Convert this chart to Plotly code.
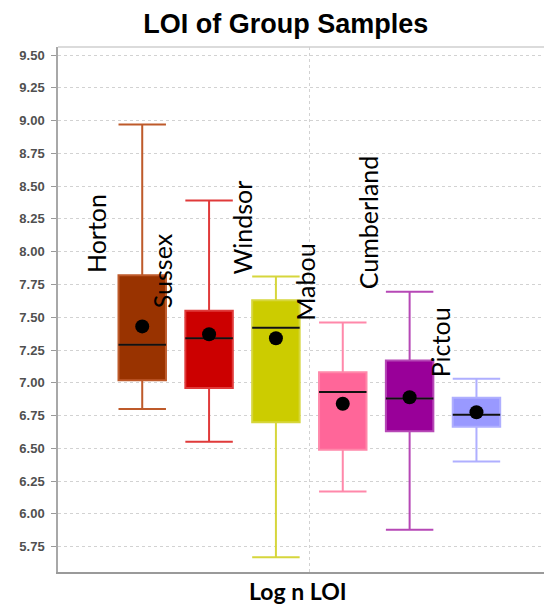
import plotly.graph_objects as go

# ---- data ----
groups = ["Horton", "Sussex", "Windsor", "Mabou", "Cumberland", "Pictou"]
lower_whisker = [6.80, 6.55, 5.67, 6.17, 5.88, 6.40]
q1_values = [7.02, 6.96, 6.70, 6.49, 6.63, 6.665]
median_values = [7.29, 7.34, 7.42, 6.93, 6.88, 6.756]
q3_values = [7.82, 7.55, 7.63, 7.08, 7.17, 6.886]
upper_whisker = [8.97, 8.39, 7.81, 7.46, 7.695, 7.03]
mean_values = [7.43, 7.37, 7.34, 6.84, 6.89, 6.775]

# ---- styles ----
fill_colors = ["#993300", "#CC0000", "#CCCC00", "#FF6699", "#990099", "#9999FF"]
line_colors = ["#BE5A2A", "#E03A3A", "#D6D63C", "#FF88AA", "#B648B6", "#AFAFFF"]
label_xshift = [-46, -47, -34, -38, -42, -37]
label_anchor = ["q3", "q3", "upper", "upper", "upper", "upper"]
box_w = 0.71

fig = go.Figure()
for i, g in enumerate(groups):
    fig.add_trace(go.Box(
        x=[i], q1=[q1_values[i]], median=[median_values[i]], q3=[q3_values[i]],
        lowerfence=[lower_whisker[i]], upperfence=[upper_whisker[i]],
        width=box_w, whiskerwidth=1, boxpoints=False,
        fillcolor=fill_colors[i], line=dict(color=line_colors[i], width=2),
        name=g, showlegend=False, hoverinfo="skip"))
    fig.add_trace(go.Scatter(
        x=[i - box_w / 2, i + box_w / 2], y=[median_values[i], median_values[i]],
        mode="lines", line=dict(color="#111111", width=2),
        showlegend=False, hoverinfo="skip"))
    fig.add_trace(go.Scatter(
        x=[i], y=[mean_values[i]], mode="markers",
        marker=dict(color="black", size=14),
        showlegend=False, hoverinfo="skip"))
    ya = q3_values[i] if label_anchor[i] == "q3" else upper_whisker[i]
    fig.add_annotation(x=i, y=ya, text=g, textangle=-90, showarrow=False,
                       xanchor="center", yanchor="bottom", xshift=label_xshift[i],
                       font=dict(family="Lato", size=25, color="black"))

fig.add_annotation(xref="paper", yref="paper", x=0.4858, y=-0.036,
                   text="Log n LOI", showarrow=False, xanchor="center", yanchor="middle",
                   font=dict(family="Lato", size=23, color="black", weight="bold"))

fig.add_shape(type="line", xref="paper", yref="paper", x0=0, x1=1, y0=1, y1=1,
              line=dict(color="#cfcfcf", width=1.5))

fig.update_layout(
    width=544, height=599,
    margin=dict(l=50, r=0, t=39, b=35),
    paper_bgcolor="white", plot_bgcolor="white",
    boxmode="overlay",
    title=dict(text="LOI of Group Samples", x=0.5105, xref="container",
               y=0.9733, yref="container", xanchor="center", yanchor="middle",
               font=dict(family="Liberation Sans", size=27, color="black", weight="bold")),
    xaxis=dict(range=[-1.26, 6.13], tickvals=[2.5], showticklabels=False, ticks="",
               showgrid=True, gridcolor="#d2d2d2", griddash="3px,3px", gridwidth=1,
               zeroline=False, showline=True, linecolor="#9a9a9a", linewidth=2,
               fixedrange=True),
    yaxis=dict(range=[5.557, 9.561], tick0=5.75, dtick=0.25, tickformat=".2f",
               ticks="outside", ticklen=5, tickcolor="#9a9a9a",
               ticklabelstandoff=4,
               showgrid=True, gridcolor="#d2d2d2", griddash="3px,3px", gridwidth=1,
               zeroline=False, showline=True, linecolor="#a8a8a8", linewidth=1.5,
               tickfont=dict(family="Liberation Sans", size=13, color="#505050",
                             weight="bold"),
               fixedrange=True),
)

fig.write_html("out.html")
